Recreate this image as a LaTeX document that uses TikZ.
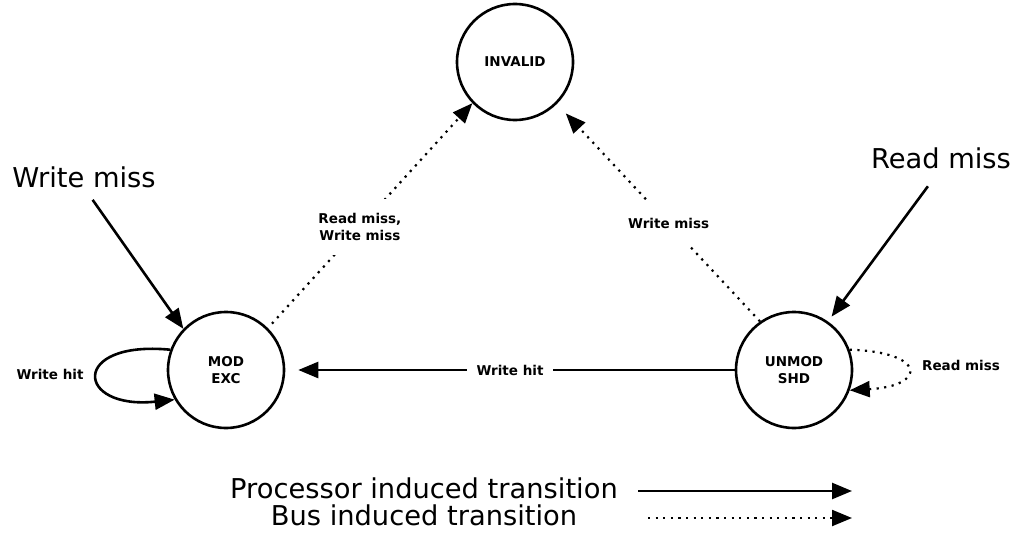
\documentclass[tikz,border=0pt]{standalone}
\usepackage{fontspec}
\setmainfont{DejaVu Sans}
\usepackage{tikz}
\usetikzlibrary{arrows.meta}

\begin{document}
\begin{tikzpicture}[x=1pt,y=1pt,yscale=-1,xscale=1,
  state/.style={draw, circle, line width=2.6pt, minimum size=116pt, inner sep=0pt, align=center, font=\fontsize{13.5}{17}\selectfont\bfseries},
  proc/.style={line width=2.6pt, -{Triangle[length=20pt,width=16pt]}},
  bus/.style={line width=2.2pt, dash pattern=on 2.2pt off 5.4pt, -{Triangle[length=20pt,width=16pt]}},
  lbl/.style={font=\fontsize{13.5}{17}\selectfont\bfseries, fill=white, align=center},
  big/.style={font=\fontsize{27.3}{30}\selectfont, inner sep=0pt}]

\useasboundingbox (0,0) rectangle (1012,535);

% States
\node[state] (inv) at (515,62) {INVALID};
\node[state] (mod) at (226,370) {MOD\\EXC};
\node[state] (unmod) at (794,370) {UNMOD\\SHD};

% Text Node
\node[big, anchor=base] (wm) at (84,187) {Write miss};
% Text Node
\node[big, anchor=base] (rm) at (941,168) {Read miss};

% Processor induced
\draw[proc, shorten <=15pt] (wm.south) -- (mod.136);
\draw[proc, shorten <=22pt, shorten >=6pt] (rm.south) -- (unmod.55);
\draw[proc, shorten >=13pt] (unmod.west) -- node[lbl, inner xsep=10pt] (wh) {Write hit} (mod.east);
\draw[proc] (mod.160) .. controls (70,340) and (75,410) .. (mod.210);
% Text Node
\node[lbl, fill=none] (whl) at (50,374) {Write hit};

% Bus induced
\draw[bus, shorten <=6pt] (mod.45) -- node[lbl, pos=0.45, inner ysep=14pt] (rwm) {Read miss,\\Write miss} (inv.224);
\draw[bus, shorten >=13pt] (unmod.125) -- node[lbl, pos=0.45, inner ysep=16pt] (wml) {Write miss} (inv.315);
\draw[bus] (unmod.20) .. controls (927,352) and (927,386) .. (unmod.340);
% Text Node
\node[lbl, fill=none] (rml) at (961,365) {Read miss};

% Legend
\node[big, anchor=base] (lp) at (424,498) {Processor induced transition};
\node[big, anchor=base] (lb) at (424,525) {Bus induced transition};
\coordinate (lp1) at (638,491);
\coordinate (lp2) at (852,491);
\coordinate (lb1) at (648,518);
\coordinate (lb2) at (852,518);
\draw[proc] (lp1) -- (lp2);
\draw[bus] (lb1) -- (lb2);

\end{tikzpicture}
\end{document}
